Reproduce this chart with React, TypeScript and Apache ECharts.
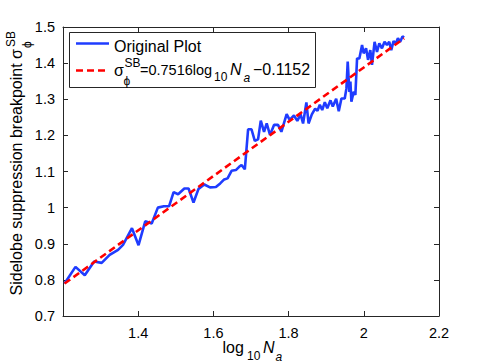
import React, { useEffect, useRef } from 'react';
import * as echarts from 'echarts';

// log10(Na) values and measured breakpoints
const xValues = [
  1.2041, 1.2332, 1.2579, 1.2828, 1.3029, 1.3241, 1.3464, 1.3596, 1.3834, 1.4009,
  1.4187, 1.4359, 1.4523, 1.4682, 1.4822, 1.4942, 1.5061, 1.5228, 1.5339, 1.5471,
  1.5604, 1.5758, 1.5909, 1.6067, 1.6181, 1.6287, 1.6377, 1.6483, 1.6597, 1.6685,
  1.6748, 1.6836, 1.6923, 1.7013, 1.7101, 1.7188, 1.726, 1.7347, 1.7418, 1.7506,
  1.7612, 1.7718, 1.7808, 1.7948, 1.8028, 1.8142, 1.8232, 1.8319, 1.8385, 1.8473,
  1.8531, 1.8618, 1.8706, 1.8769, 1.883, 1.8894, 1.8963, 1.9029, 1.9114, 1.9175,
  1.9265, 1.9334, 1.9405, 1.9493, 1.9538, 1.9572, 1.9617, 1.9644, 1.967, 1.9731,
  1.9776, 1.9821, 1.9882, 1.9954, 1.9996, 2.006, 2.0113, 2.0173, 2.0218, 2.0287,
  2.0351, 2.0412, 2.0483, 2.0552, 2.0616, 2.0677, 2.073, 2.0791, 2.0854, 2.0907,
  2.0968, 2.1029, 2.1072,
];
const yValues = [
  0.79, 0.836, 0.813, 0.851, 0.847, 0.869, 0.883, 0.897, 0.943, 0.896,
  0.962, 0.956, 1.0, 1.004, 1.004, 1.043, 1.037, 1.053, 1.053, 1.014,
  1.052, 1.064, 1.056, 1.057, 1.067, 1.078, 1.081, 1.102, 1.104, 1.113,
  1.118, 1.106, 1.217, 1.217, 1.185, 1.189, 1.241, 1.21, 1.233, 1.201,
  1.229, 1.229, 1.21, 1.259, 1.243, 1.255, 1.24, 1.258, 1.233, 1.291,
  1.233, 1.258, 1.274, 1.268, 1.285, 1.27, 1.292, 1.275, 1.297, 1.28,
  1.301, 1.267, 1.302, 1.302, 1.33, 1.404, 1.32, 1.349, 1.293, 1.321,
  1.312, 1.413, 1.413, 1.45, 1.427, 1.441, 1.409, 1.436, 1.395, 1.459,
  1.431, 1.455, 1.441, 1.459, 1.45, 1.459, 1.436, 1.461, 1.455, 1.469,
  1.459, 1.474, 1.471,
];
// fitted line sigma = 0.7516 log10(Na) - 0.1152, endpoints
const fitX = [1.2041, 2.1072];
const fitY = [0.7898, 1.4686];

const xMin = 1.2;
const xMax = 2.2;
const xStep = 0.2;
const yMin = 0.7;
const yMax = 1.5;
const yStep = 0.1;

const FONT = '"Liberation Sans", Arial, Helvetica, sans-serif';
const AXIS_COLOR = '#262626';

export default function App() {
  const ref = useRef<HTMLDivElement>(null);
  useEffect(() => {
    if (!ref.current) return;
    const chart = echarts.init(ref.current, undefined, { renderer: 'svg' });
    const axisCommon = {
      type: 'value' as const,
      axisLine: { show: true, onZero: false, lineStyle: { color: AXIS_COLOR, width: 1 } },
      axisTick: { show: true, inside: true, length: 5, lineStyle: { color: AXIS_COLOR, width: 1 } },
      splitLine: { show: false },
    };
    const t = (x: number, y: number, text: string, size: number, opts: any = {}) => ({
      type: 'text',
      x,
      y,
      z: 100,
      style: {
        text,
        font: `${opts.italic ? 'italic ' : ''}${size}px ${FONT}`,
        fill: '#000',
        textAlign: opts.align || 'left',
        textVerticalAlign: 'middle',
      },
    });
    chart.setOption({
      animation: false,
      backgroundColor: '#fff',
      grid: { left: 63, right: 46, top: 27, bottom: 48, containLabel: false },
      xAxis: [
        {
          ...axisCommon,
          min: xMin,
          max: xMax,
          interval: xStep,
          position: 'bottom',
          axisLabel: {
            color: '#000',
            fontSize: 14.5,
            fontFamily: FONT,
            margin: 9,
            formatter: (v: number) => (v < xMin + xStep / 2 ? '' : String(Math.round(v * 10) / 10)),
          },
        },
        {
          ...axisCommon,
          min: xMin,
          max: xMax,
          interval: xStep,
          position: 'top',
          axisLabel: { show: false },
        },
      ],
      yAxis: [
        {
          ...axisCommon,
          min: yMin,
          max: yMax,
          interval: yStep,
          position: 'left',
          axisLabel: {
            color: '#000',
            fontSize: 14.5,
            fontFamily: FONT,
            margin: 8,
            formatter: (v: number) => String(Math.round(v * 10) / 10),
          },
        },
        {
          ...axisCommon,
          min: yMin,
          max: yMax,
          interval: yStep,
          position: 'right',
          axisLabel: { show: false },
        },
      ],
      series: [
        {
          name: 'Original Plot',
          type: 'line',
          showSymbol: false,
          symbol: 'none',
          data: xValues.map((x, i) => [x, yValues[i]]),
          lineStyle: { color: '#1f3cff', width: 2.6 },
          z: 3,
        },
        {
          name: 'Fit',
          type: 'line',
          showSymbol: false,
          symbol: 'none',
          data: fitX.map((x, i) => [x, fitY[i]]),
          lineStyle: { color: '#ff0000', width: 2.6, type: [7, 4] },
          z: 4,
        },
      ],
      graphic: [
        // legend box
        {
          type: 'rect',
          z: 90,
          shape: { x: 69.5, y: 32.5, width: 246, height: 55 },
          style: { fill: '#fff', stroke: AXIS_COLOR, lineWidth: 1 },
        },
        {
          type: 'line',
          z: 95,
          shape: { x1: 76, y1: 43.5, x2: 109, y2: 43.5 },
          style: { stroke: '#1f3cff', lineWidth: 2.6 },
        },
        {
          type: 'line',
          z: 95,
          shape: { x1: 76, y1: 70.5, x2: 109, y2: 70.5 },
          style: { stroke: '#ff0000', lineWidth: 2.6, lineDash: [7, 4] },
        },
        t(114, 46, 'Original Plot', 16),
        t(114, 70, 'σ', 16),
        t(124.5, 62.5, 'SB', 12),
        t(123.5, 80.5, 'ϕ', 12),
        t(140, 69.5, '=0.7516log', 14.5),
        t(214, 77, '10', 12),
        t(230, 69.5, 'N', 16, { italic: true }),
        t(243.5, 77.5, 'a', 12, { italic: true }),
        t(253, 69.5, '−0.1152', 16),
        // x axis name
        t(222.5, 347, 'log', 16),
        t(247, 356, '10', 12),
        t(263, 347, 'N', 16, { italic: true }),
        t(275.5, 357, 'a', 12, { italic: true }),
        // y axis name (rotated)
        {
          type: 'group',
          x: 16,
          y: 49,
          rotation: Math.PI / 2,
          children: [
            t(0, 0, 'Sidelobe suppression breakpoint σ', 16, { align: 'right' }),
            t(2, -5.5, 'SB', 12),
            t(1, 11, 'ϕ', 12),
          ],
        },
      ],
    });
    return () => chart.dispose();
  }, []);
  return (
    <div
      ref={ref}
      style={{ position: 'fixed', left: 0, top: 0, width: 485, height: 364 }}
    />
  );
}
